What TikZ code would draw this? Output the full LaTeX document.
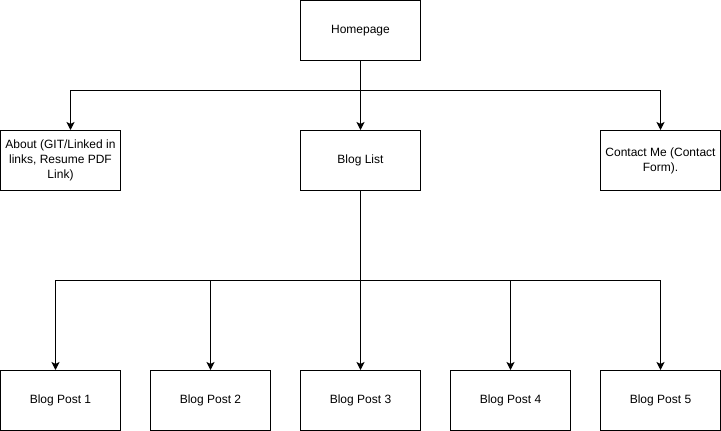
\documentclass[tikz,border=0pt]{standalone}
\usepackage{fontspec}
\setmainfont{Liberation Sans}
\usetikzlibrary{arrows.meta}

\begin{document}
\begin{tikzpicture}[x=1pt, y=-1pt,
  page/.style = {rectangle, draw, line width=1pt, minimum width=120pt, minimum height=60pt, align=center, font=\fontsize{12}{15}\selectfont, inner sep=0pt},
  link/.style = {line width=1pt, -{Stealth[length=8pt, width=8pt, inset=2pt]}}]

\useasboundingbox (0,0) rectangle (721,431);

\node[page] (home) at (360.5,30.5) {Homepage};

\node[page] (about) at (60.5,160.5) {About (GIT/Linked in\\links, Resume PDF\\Link)};
\node[page] (bloglist) at (360.5,160.5) {Blog List};
\node[page] (contact) at (660.5,160.5) {Contact Me (Contact\\Form).};

\node[page] (post1) at (60.5,400.5) {Blog Post 1};
\node[page] (post2) at (210.5,400.5) {Blog Post 2};
\node[page] (post3) at (360.5,400.5) {Blog Post 3};
\node[page] (post4) at (510.5,400.5) {Blog Post 4};
\node[page] (post5) at (660.5,400.5) {Blog Post 5};

\coordinate (topbus) at (360.5,90.5);
\coordinate (postbus) at (360.5,280.5);

\draw[line width=1pt] (home.south) -- (topbus);
\draw[link] (topbus) -| ([xshift=10pt]about.north);
\draw[link] (topbus) -- (bloglist.north);
\draw[link] (topbus) -| (contact.north);

\draw[line width=1pt] (bloglist.south) -- (postbus);
\draw[link] (postbus) -| ([xshift=-5pt]post1.north);
\draw[link] (postbus) -| (post2.north);
\draw[link] (postbus) -- (post3.north);
\draw[link] (postbus) -| (post4.north);
\draw[link] (postbus) -| (post5.north);

\end{tikzpicture}
\end{document}
